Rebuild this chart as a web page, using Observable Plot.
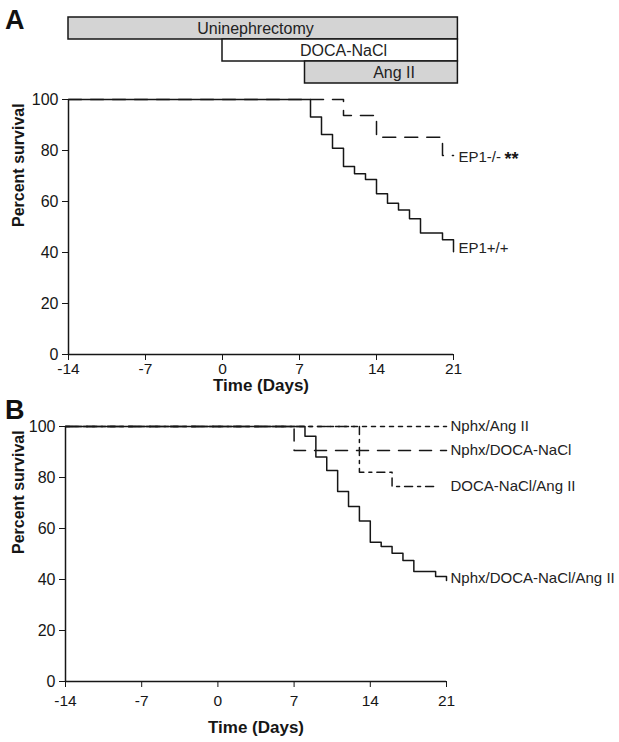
<!DOCTYPE html>
<html><head><meta charset="utf-8">
<script src="https://cdn.jsdelivr.net/npm/d3@7"></script>
<script src="https://cdn.jsdelivr.net/npm/@observablehq/plot@0.6"></script>
<style>
body{margin:0;background:#fff;font-family:"Liberation Sans",Arial,sans-serif;}
#wrap{position:relative;width:619px;height:742px;overflow:hidden;}
#wrap svg{position:absolute;left:0;}
.panel{position:absolute;left:5px;font-weight:bold;font-size:27px;color:#111;line-height:1;}
</style></head><body><div id="wrap"></div>
<script>
// ---- treatment timeline (panel A header) ----
const treatments = ["Uninephrectomy", "DOCA-NaCl", "Ang II"];
const treatStart = [-14, 0, 7.5];
const treatEnd = [21.4, 21.4, 21.4];
const treatLabelDay = [3, 11, 15.6];

// ---- axes ----
const xTicks = [-14, -7, 0, 7, 14, 21];
const yTicks = [0, 20, 40, 60, 80, 100];

// ---- panel A ----
const wtName = "EP1+/+";
const wtDays = [-14, 8, 9, 10, 11, 12, 13, 14, 15, 16, 17, 18, 20, 21];
const wtSurv = [100, 93.1, 86.3, 80.9, 73.7, 70.9, 68.6, 63.0, 59.3, 56.7, 53.2, 47.6, 45.0, 40.3];
const koName = "EP1-/-";
const koDays = [-14, 11, 14, 20, 21];
const koSurv = [100, 93.7, 85.2, 78.0, 78.0];

// ---- panel B ----
const bNames = ["Nphx/Ang II", "Nphx/DOCA-NaCl", "DOCA-NaCl/Ang II", "Nphx/DOCA-NaCl/Ang II"];
const bDays = [
  [-14, 21],
  [-14, 7, 21],
  [-14, 13, 16, 20],
  [-14, 8, 9, 10, 11, 12, 13, 14, 15, 16, 17, 18, 20, 21]
];
const bSurv = [
  [100, 100],
  [100, 90.6, 90.6],
  [100, 82.1, 76.5, 76.5],
  [100, 96.2, 88.0, 82.7, 74.5, 68.6, 62.9, 54.6, 52.9, 50.3, 47.5, 43.1, 41.2, 39.6]
];
const bLabelSurv = [100, 90.6, 76.5, 40.4];

const wrap = document.getElementById("wrap");
const FONT = '"Liberation Sans", Arial, sans-serif';
const INK = "#161616";

function rows(days, surv) { return days.map((d, i) => ({day: d, surv: surv[i]})); }

// Header bars
const treatRows = treatments.map((t, i) => ({name: t, start: treatStart[i], end: treatEnd[i], lab: treatLabelDay[i]}));
const barFill = {"Uninephrectomy": "#d4d4d4", "DOCA-NaCl": "#ffffff", "Ang II": "#d4d4d4"};
const bars = Plot.plot({
  width: 619, height: 90, marginLeft: 68, marginRight: 166, marginTop: 16, marginBottom: 7,
  x: {domain: [-14, 21], axis: null},
  y: {type: "band", domain: treatments, padding: 0, axis: null},
  style: {fontFamily: FONT, fontSize: "16px", color: INK, background: "transparent"},
  marks: [
    Plot.barX(treatRows, {x1: "start", x2: "end", y: "name", fill: d => barFill[d.name], stroke: INK, strokeWidth: 1.5}),
    Plot.text(treatRows, {x: "lab", y: "name", text: "name", fontSize: 16, fill: "#222"})
  ]
});
bars.style.top = "0px";
wrap.appendChild(bars);

function axisMarks(ylabDx, xlabDy, tickPad) {
  return [
    Plot.axisX({ticks: xTicks, tickSize: 6, tickPadding: tickPad, label: null, fontSize: 15.5, tickFormat: d => d < 0 ? "-" + Math.abs(d) : String(d)}),
    Plot.axisY({ticks: yTicks, tickSize: 6, tickPadding: 4, label: null, fontSize: 16}),
    Plot.ruleY([0], {stroke: INK, strokeWidth: 1.5}),
    Plot.ruleX([-14], {y1: 0, y2: 100, stroke: INK, strokeWidth: 1.5}),
    Plot.text(["Time (Days)"], {frameAnchor: "bottom", dy: xlabDy, fontWeight: "bold", fontSize: 17, fill: INK}),
    Plot.text(["Percent survival"], {frameAnchor: "left", dx: ylabDx, rotate: -90, fontWeight: "bold", fontSize: 16, fill: INK})
  ];
}

// Panel A
const plotA = Plot.plot({
  width: 619, height: 314, marginLeft: 68, marginRight: 166, marginTop: 14, marginBottom: 45,
  x: {domain: [-14, 21]}, y: {domain: [0, 100]},
  style: {fontFamily: FONT, fontSize: "16px", color: INK, background: "transparent"},
  marks: [
    ...axisMarks(-50, 36, 2),
    Plot.line(rows(koDays, koSurv), {x: "day", y: "surv", curve: "step-after", stroke: INK, strokeWidth: 1.5, strokeDasharray: "13,9"}),
    Plot.line(rows(wtDays, wtSurv), {x: "day", y: "surv", curve: "step-after", stroke: INK, strokeWidth: 1.5}),
    Plot.text([koName], {x: () => 21, y: () => 77.3, text: d => d, textAnchor: "start", dx: 5, fontSize: 15, fill: "#222"}),
    Plot.text(["**"], {x: () => 21, y: () => 77.3, text: d => d, textAnchor: "start", dx: 51, dy: 2, fontSize: 18, fontWeight: "bold", fill: INK}),
    Plot.text([wtName], {x: () => 21, y: () => 41.8, text: d => d, textAnchor: "start", dx: 5, fontSize: 15, fill: "#222"})
  ]
});
plotA.style.top = "85px";
wrap.appendChild(plotA);

// Panel B
const dashes = ["4,5", "12,9", "8,5,3,5", null];
const plotB = Plot.plot({
  width: 619, height: 341, marginLeft: 65, marginRight: 173, marginTop: 26, marginBottom: 60,
  x: {domain: [-14, 21]}, y: {domain: [0, 100]},
  style: {fontFamily: FONT, fontSize: "16px", color: INK, background: "transparent"},
  marks: [
    ...axisMarks(-47, 51, 7),
    ...bNames.map((n, i) => Plot.line(rows(bDays[i], bSurv[i]), {
      x: "day", y: "surv", curve: "step-after", stroke: INK, strokeWidth: 1.5,
      strokeDasharray: dashes[i] || undefined
    })),
    Plot.text(bNames.map((n, i) => ({name: n, y: bLabelSurv[i]})), {x: () => 21, y: "y", text: "name", textAnchor: "start", dx: 4, fontSize: 15, fill: "#222"})
  ]
});
plotB.style.top = "400px";
wrap.appendChild(plotB);

// Panel letters
const la = document.createElement("div"); la.className = "panel"; la.textContent = "A"; la.style.top = "7px"; wrap.appendChild(la);
const lb = document.createElement("div"); lb.className = "panel"; lb.textContent = "B"; lb.style.top = "397px"; wrap.appendChild(lb);
</script></body></html>
